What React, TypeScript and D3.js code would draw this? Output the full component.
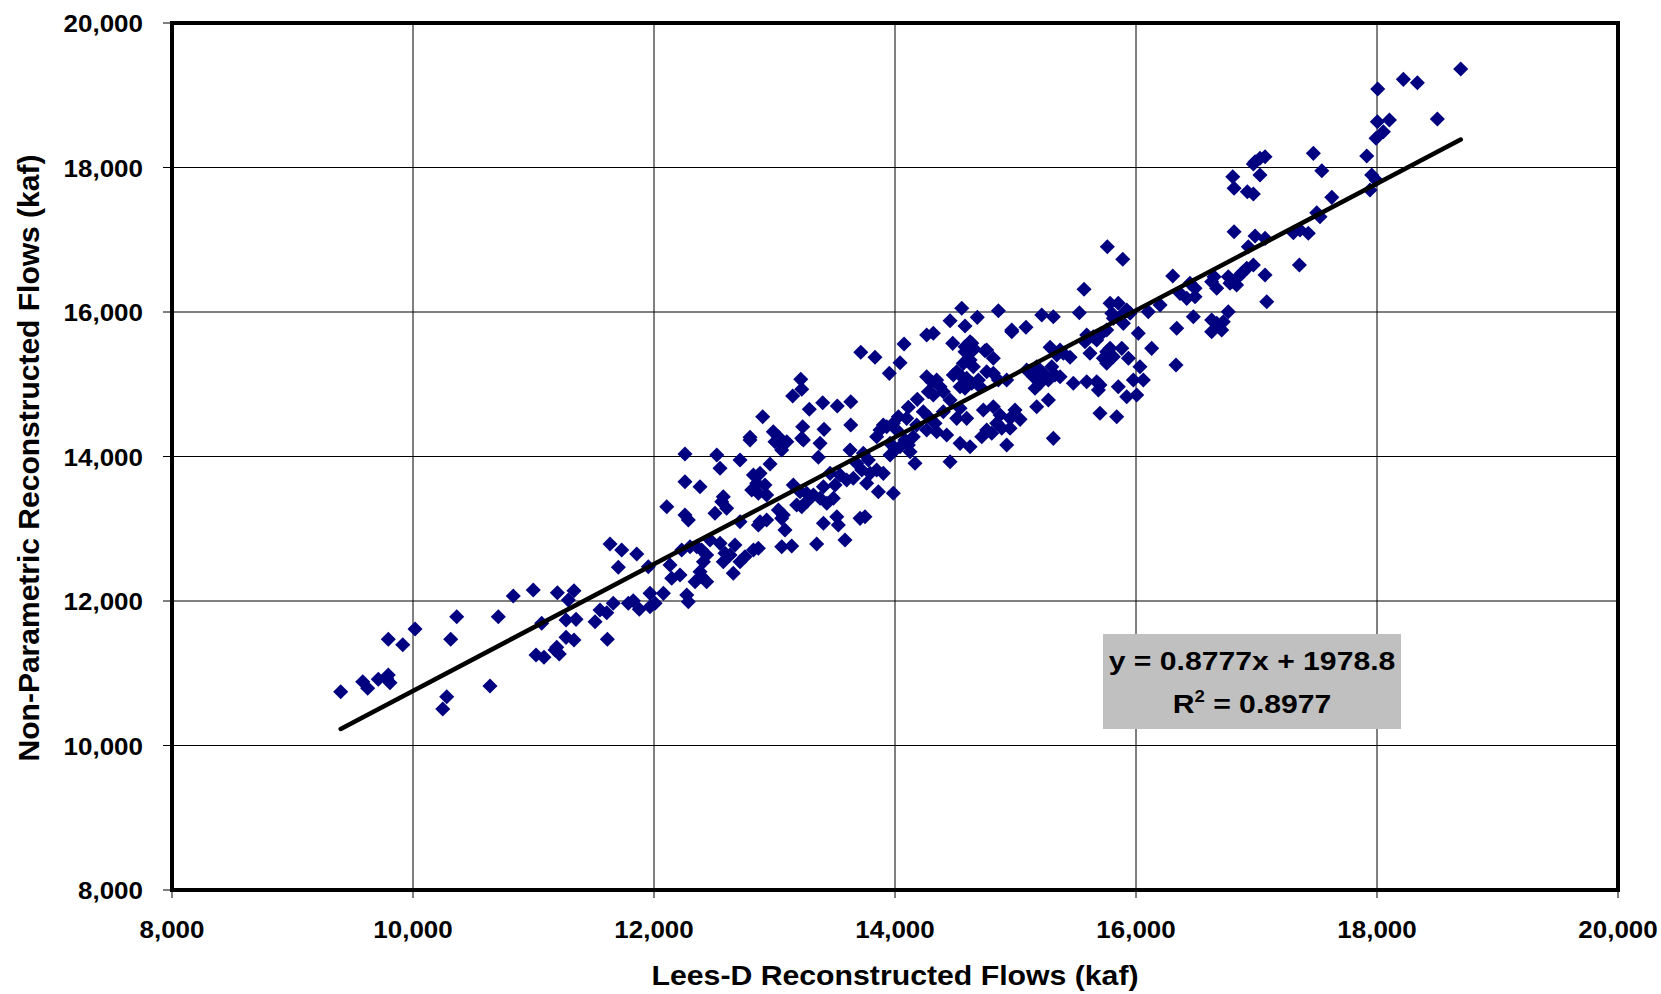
import React from "react";
import * as d3 from "d3";

// Lees-D reconstructed flows (x, kaf) vs Non-Parametric reconstructed flows (y, kaf)
const flows: [number, number][] = [
  [9400,10745],[9583,10883],[9624,10792],[9712,10916],[9795,10976],[9809,10869],[9782,10930],[9795,11470],[9915,11395],[10017,11612],
  [10363,11783],[10313,11470],[10280,10675],[10247,10505],[10639,10823],[10708,11783],[10832,12069],[10998,12152],[11198,12115],[11336,12142],
  [11289,12014],[11704,12466],[11068,11691],[11270,11737],[11353,11746],[11511,11713],[11613,11470],[11270,11497],[11336,11460],[11021,11252],
  [11087,11221],[11193,11359],[11214,11266],[11179,11322],[11552,11875],[11608,11838],[11662,11968],[11787,11968],[11828,12004],[11878,11885],
  [12257,14035],[12521,14021],[12714,13952],[12548,13837],[12963,13896],[12797,14228],[13046,14182],[13060,14090],[13102,14205],[13240,14228],
  [13378,14182],[13364,13989],[12257,13651],[12382,13582],[12825,13744],[12880,13767],[12853,13629],[12921,13606],[12811,13536],[12866,13491],
  [12935,13467],[13156,13606],[13212,13513],[13267,13491],[13323,13467],[13406,13582],[13461,13767],[13503,13606],[13489,13421],[13434,13352],
  [13378,13421],[12575,13444],[12562,13375],[12603,13283],[12506,13214],[12106,13305],[12257,13190],[12285,13121],[12714,13097],[12880,13097],
  [12866,13052],[12935,13121],[13032,13259],[13073,13190],[13060,13144],[13184,13329],[13226,13305],[13267,13375],[13087,12983],[13406,13075],
  [13517,13167],[13530,13052],[11635,12789],[11732,12706],[11857,12651],[11953,12475],[12133,12498],[12147,12314],[12216,12360],[12230,12706],
  [12299,12752],[12355,12752],[12396,12706],[12437,12637],[12465,12844],[12410,12544],[12382,12405],[12341,12267],[12437,12267],[12396,12336],
  [12548,12798],[12589,12660],[12575,12544],[12631,12637],[12672,12775],[12658,12383],[12714,12544],[12755,12613],[12825,12706],[12866,12729],
  [13060,12752],[13143,12761],[13350,12789],[11967,12106],[12078,12106],[12009,11968],[12272,12083],[12285,11990],[11967,11921],
  [14263,15681],[14318,15705],[14479,15566],[14075,15557],[14581,15519],[14637,15566],[14650,15474],[14761,15474],[14816,15359],[14969,15727],
  [13716,15442],[13834,15373],[14042,15298],[13953,15151],[14567,15289],[14623,15335],[14650,15243],[14512,15173],[14484,15128],[14554,15104],
  [14595,15082],[14637,15013],[14692,15058],[14761,15173],[14816,15151],[14858,15058],[14927,15058],[14263,15104],[14305,15035],[14346,15058],
  [14374,14966],[14401,14897],[14318,14851],[14277,14897],[14540,14966],[14581,14944],[14706,14966],[13218,15068],[13226,14930],[13151,14837],
  [13289,14653],[13400,14744],[13521,14699],[13633,14758],[13234,14412],[13226,14251],[13411,14376],[13633,14436],[14185,14791],[14111,14681],
  [14028,14551],[14097,14528],[14235,14620],[14277,14551],[14332,14459],[14263,14367],[14346,14343],[14180,14436],[14152,14274],[14111,14159],
  [14014,14367],[13986,14459],[14401,14620],[14457,14782],[14540,14667],[14595,14528],[14512,14528],[14429,14297],[14540,14182],[14623,14135],
  [14733,14644],[14816,14689],[14872,14575],[14955,14528],[14996,14644],[14844,14459],[14761,14367],[14720,14274],[14803,14321],[14886,14390],
  [14955,14390],[14927,14159],[13876,14367],[13903,14436],[13931,14412],[13848,14274],[13959,14182],[13959,14020],[14000,14090],[14042,14135],
  [14083,14228],[14125,14066],[14166,13906],[14457,13928],[13627,14090],[13737,14044],[13779,13952],[13682,13906],[13724,13814],[13793,13767],
  [13848,13814],[13903,13767],[13765,13629],[13862,13513],[13986,13491],[13544,13744],[13599,13675],[13654,13698],[13585,12844],[13710,13144],
  [13751,13166],
  [12902,14551],[12797,14265],[12990,14343],[13032,14274],[13004,14204],
  [14554,16051],[14457,15879],[14581,15806],[15762,16903],[15890,16729],
  [15569,16314],[16305,16498],[16448,16397],[16490,16328],[16365,16258],[16421,16189],[16490,16211],[14683,15926],[14858,16018],[15218,15958],
  [15314,15935],[15530,15990],[15785,16120],[15853,16120],[15923,16027],[15799,15982],[15812,15912],[15895,15843],[15868,15935],[15951,15982],
  [16102,16004],[16200,16096],[16476,15935],[16338,15774],[14969,15751],[15087,15788],[14623,15589],[14650,15497],[14581,15450],[14747,15464],
  [15287,15511],[15370,15474],[15397,15428],[15342,15405],[15453,15373],[15591,15681],[15577,15589],[15646,15658],[15674,15612],[15716,15705],
  [15757,15751],[15618,15428],[15757,15450],[15785,15497],[15812,15381],[15729,15359],[15757,15290],[15882,15497],[15937,15359],[16019,15705],
  [16130,15497],[16033,15243],[16332,15266],[15978,15058],[16061,15058],[16006,14851],[15923,14827],[15853,14966],[15701,14989],[15674,15035],
  [15591,15035],[15688,14920],[15480,15013],[15701,14598],[15840,14551],[15093,15197],[15176,15243],[15148,15104],[15231,15151],[15301,15243],
  [15328,15128],[15370,15104],[15203,15013],[15162,14944],[15273,15058],[15273,14782],[15176,14689],[15038,14514],[15314,14251],
  [16988,18080],[17029,18127],[17071,18149],[16974,18049],[17472,18196],[17542,17955],[17915,18159],[17956,17896],[17942,17688],[16803,17873],
  [16814,17712],[16924,17664],[16974,17633],[17029,17896],[17625,17587],[17500,17374],[17527,17319],[16814,17111],[16988,17051],[17071,17019],
  [16932,16903],[17306,17097],[17361,17134],[17430,17089],[17356,16650],[16974,16650],[16919,16604],[16877,16535],[16849,16488],[16891,16557],
  [17071,16512],[16766,16488],[16794,16419],[16835,16373],[16780,16397],[16648,16488],[16670,16328],[16628,16419],[17085,16143],[16766,16004],
  [16628,15889],[16670,15843],[16725,15865],[16711,15751],[16628,15727],
  [18695,19363],[18219,19220],[18335,19173],[18006,19086],[18501,18671],[18003,18633],[18103,18657],[18053,18495],[17992,18404],[17992,17827],
];

const xTicks = [8000, 10000, 12000, 14000, 16000, 18000, 20000];
const yTicks = [8000, 10000, 12000, 14000, 16000, 18000, 20000];
const slope = 0.8777;
const intercept = 1978.8;
const equationText = "y = 0.8777x + 1978.8";
const rSquaredText = "0.8977";
const xTitle = "Lees-D Reconstructed Flows (kaf)";
const yTitle = "Non-Parametric Reconstructed Flows (kaf)";

const W = 1661;
const H = 994;
const plot = { left: 172, right: 1618, top: 23, bottom: 890 };
const FONT = "'Liberation Sans', Arial, Helvetica, sans-serif";

export default function App() {
  const x = d3.scaleLinear().domain([8000, 20000]).range([plot.left, plot.right]);
  const y = d3.scaleLinear().domain([8000, 20000]).range([plot.bottom, plot.top]);
  const fmt = d3.format(",");
  const xs = flows.map((d) => d[0]);
  const x0 = d3.min(xs) as number;
  const x1 = d3.max(xs) as number;
  const linePath = d3.line<number>()
    .x((v) => x(v))
    .y((v) => y(slope * v + intercept))([x0, x1]) as string;
  const diamond = d3.symbol().type(d3.symbolDiamond2).size(145)() as string;

  return (
    <svg width={W} height={H} style={{ position: "absolute", left: 0, top: 0, background: "#fff" }}
      fontFamily={FONT} fontWeight="bold">
      {/* grid */}
      {xTicks.slice(1, -1).map((t) => (
        <line key={"gx" + t} x1={x(t)} x2={x(t)} y1={plot.top} y2={plot.bottom} stroke="#000" strokeWidth={1} />
      ))}
      {yTicks.slice(1, -1).map((t) => (
        <line key={"gy" + t} x1={plot.left} x2={plot.right} y1={y(t)} y2={y(t)} stroke="#000" strokeWidth={1} />
      ))}
      {/* tick marks */}
      {xTicks.map((t) => (
        <line key={"tx" + t} x1={x(t)} x2={x(t)} y1={plot.bottom} y2={plot.bottom + 8} stroke="#000" strokeWidth={1} />
      ))}
      {yTicks.map((t) => (
        <line key={"ty" + t} x1={plot.left - 9} x2={plot.left} y1={y(t)} y2={y(t)} stroke="#000" strokeWidth={1} />
      ))}
      {/* points */}
      {flows.map((d, i) => (
        <path key={"p" + i} d={diamond} transform={`translate(${x(d[0])},${y(d[1])})`} fill="#000080" />
      ))}
      {/* regression line */}
      <path d={linePath} stroke="#000" strokeWidth={4.5} fill="none" strokeLinecap="round" />
      {/* frame */}
      <rect x={plot.left} y={plot.top} width={plot.right - plot.left} height={plot.bottom - plot.top}
        fill="none" stroke="#000" strokeWidth={4} />
      {/* tick labels */}
      {yTicks.map((t) => (
        <text key={"ly" + t} transform={`translate(143,${y(t) + 9}) scale(1.06,1)`} textAnchor="end" fontSize={24.5} fill="#000">
          {fmt(t)}
        </text>
      ))}
      {xTicks.map((t) => (
        <text key={"lx" + t} transform={`translate(${x(t)},938) scale(1.06,1)`} textAnchor="middle" fontSize={24.5} fill="#000">
          {fmt(t)}
        </text>
      ))}
      {/* axis titles */}
      <text transform={`translate(895,985) scale(1.08,1)`} textAnchor="middle" fontSize={28} fill="#000">{xTitle}</text>
      <text transform={`translate(39,458) rotate(-90)`} textAnchor="middle" fontSize={30} fill="#000">{yTitle}</text>
      {/* equation box */}
      <rect x={1103} y={634} width={298} height={95} fill="#c0c0c0" />
      <text transform={`translate(1252,670) scale(1.16,1)`} textAnchor="middle" fontSize={26} fill="#000">{equationText}</text>
      <text transform={`translate(1252,713) scale(1.16,1)`} textAnchor="middle" fontSize={26} fill="#000">
        R<tspan fontSize={16} dy={-11}>2</tspan><tspan dy={11}>{" = " + rSquaredText}</tspan>
      </text>
    </svg>
  );
}
